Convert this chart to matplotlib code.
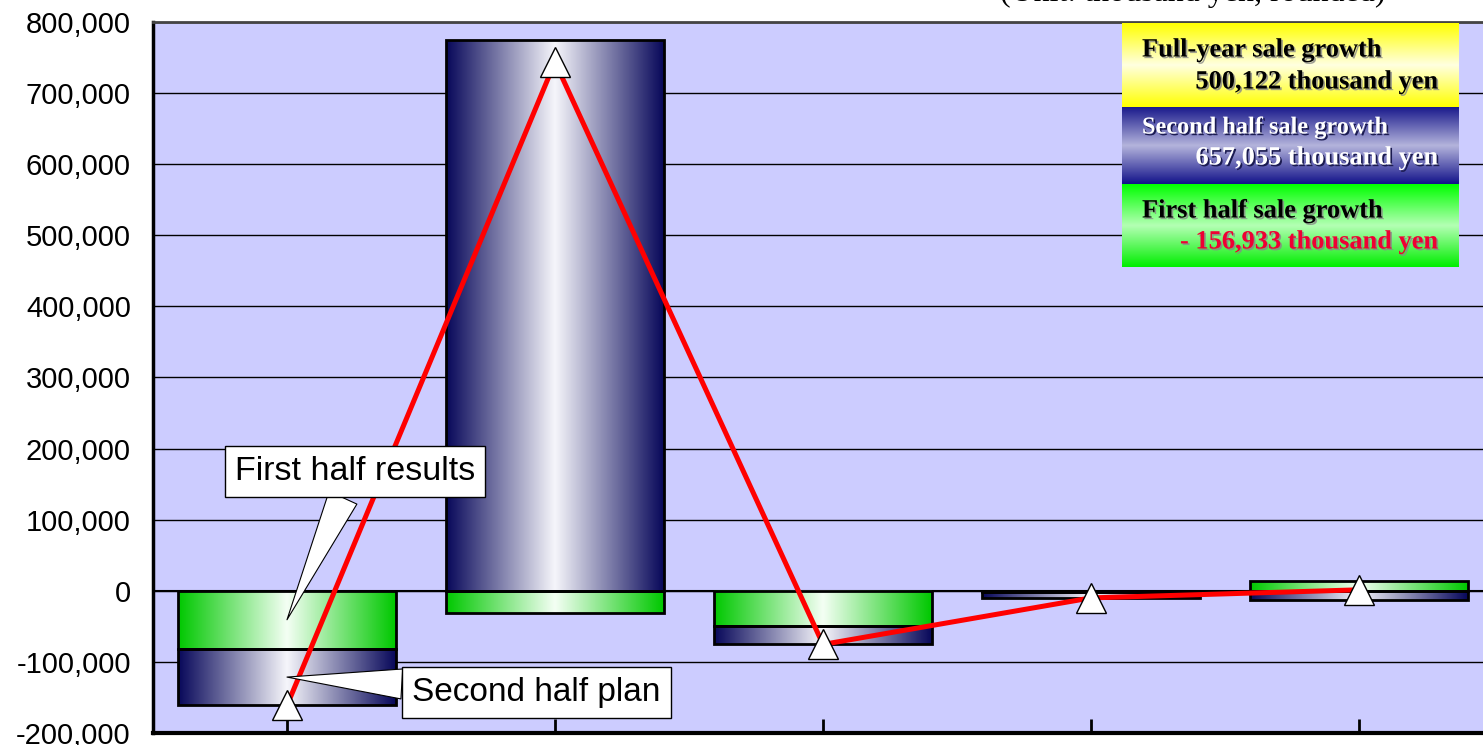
import numpy as np
import matplotlib.pyplot as plt
import matplotlib.patheffects as pe
from matplotlib.colors import LinearSegmentedColormap

plt.rcParams['font.family'] = ['Liberation Sans', 'DejaVu Sans']

# Figure size in pixels
W, H = 1483, 745
DPI = 100

# Sale growth by segment (thousand yen)
x_pos = np.arange(5)
first_half = np.array([-81400, -30700, -49600, -1000, 13800])
second_half = np.array([-79900, 774600, -25800, -9000, -12400])
y_ticks = np.arange(-200000, 800001, 100000)

# Summary figures for the side panel
full_year_growth = 500122
second_half_growth = 657055
first_half_growth = -156933

totals = first_half + second_half
# second half is stacked under/over the first half when both have the same sign
bottom2 = np.where(np.sign(first_half) == np.sign(second_half), first_half, 0)

fig = plt.figure(figsize=(W / DPI, H / DPI), dpi=DPI)
ax = fig.add_axes([153 / W, 12 / H, 1340 / W, 711 / H])
ax.set_facecolor('#ccccff')

green_cmap = LinearSegmentedColormap.from_list('green_bar', ['#00c800', '#f4fff4', '#00c800'])
navy_cmap = LinearSegmentedColormap.from_list('navy_bar', ['#08085a', '#f6f6fb', '#08085a'])
grad = np.linspace(0, 1, 256).reshape(1, -1)

bars1 = ax.bar(x_pos, first_half, width=0.81, color='none', edgecolor='black', lw=2, zorder=3)
bars2 = ax.bar(x_pos, second_half, width=0.81, bottom=bottom2, color='none',
               edgecolor='black', lw=2, zorder=3)

# horizontal gradient fill inside each bar
for bars, cmap in ((bars1, green_cmap), (bars2, navy_cmap)):
    for p in bars:
        x0, y0, w, h = p.get_x(), p.get_y(), p.get_width(), p.get_height()
        ax.imshow(grad, cmap=cmap, extent=(x0, x0 + w, y0, y0 + h), aspect='auto',
                  interpolation='bilinear', zorder=2)

# full-year line
ax.plot(x_pos, totals, color='red', lw=3.6, zorder=4)
ax.plot(x_pos, totals, ls='none', marker='^', ms=21, mfc='white', mec='black', mew=1, zorder=5)

ax.set_xlim(-0.5, 4.5)
ax.set_ylim(-200000, 800000)
ax.set_axisbelow(True)
ax.yaxis.grid(True, color='black', lw=1)
ax.axhline(0, color='black', lw=1.5, zorder=1)

ax.set_yticks(y_ticks)
ax.set_yticklabels([f'{v:,}' for v in y_ticks], fontsize=21)
ax.tick_params(axis='y', length=0, pad=16)
ax.set_xticks(x_pos)
ax.set_xticklabels([])
ax.tick_params(axis='x', direction='in', length=10, width=2)

ax.spines['left'].set_linewidth(2.5)
ax.spines['bottom'].set_linewidth(3)
ax.spines['top'].set_linewidth(2)
ax.spines['top'].set_color('#444444')

# callouts
callout_box = dict(boxstyle='square,pad=0.3', fc='white', ec='black', lw=1)
ax.annotate('First half results', xy=(x_pos[0], first_half[0] / 2), xycoords='data',
            xytext=(355, 273.5), textcoords='figure pixels', ha='center', va='center',
            fontsize=24.5, bbox=callout_box, zorder=6,
            arrowprops=dict(arrowstyle='wedge,tail_width=0.9', fc='white', ec='black',
                            lw=0.8, shrinkA=0, shrinkB=0))
ax.annotate('Second half plan', xy=(x_pos[0], bottom2[0] + second_half[0] / 2), xycoords='data',
            xytext=(536.5, 53), textcoords='figure pixels', ha='center', va='center',
            fontsize=24, bbox=callout_box, zorder=6,
            arrowprops=dict(arrowstyle='wedge,tail_width=0.9', fc='white', ec='black',
                            lw=0.8, shrinkA=0, shrinkB=0))

# summary panel
lax = fig.add_axes([1122 / W, 1 - 267 / H, 337 / W, 244 / H])
lax.set_xlim(0, 337)
lax.set_ylim(244, 0)
lax.axis('off')
vgrad = np.linspace(0, 1, 256).reshape(-1, 1)
bands = [(0, 84, ['#ffff00', '#ffffe0', '#ffff00']),
         (84, 161, ['#1a1a8c', '#b4b4dc', '#12128a']),
         (161, 244, ['#00ff00', '#b4ffb4', '#00ee00'])]
for top, bot, cols in bands:
    lax.imshow(vgrad, cmap=LinearSegmentedColormap.from_list('band', cols),
               extent=(0, 337, bot, top), aspect='auto', interpolation='bilinear')

dark_shadow = [pe.withSimplePatchShadow(offset=(1.2, -1.2), shadow_rgbFace='#888888', alpha=0.8)]
navy_shadow = [pe.withSimplePatchShadow(offset=(1.2, -1.2), shadow_rgbFace='#1a1a50', alpha=1.0)]
serif = dict(family='Liberation Serif', weight='bold', va='center')

lax.text(20, 27, 'Full-year sale growth', fontsize=19, color='black', ha='left',
         path_effects=dark_shadow, **serif)
lax.text(316, 59, f'{full_year_growth:,} thousand yen', fontsize=19, color='black', ha='right',
         path_effects=dark_shadow, **serif)
lax.text(20, 105, 'Second half sale growth', fontsize=17.5, color='white', ha='left',
         path_effects=navy_shadow, **serif)
lax.text(316, 135, f'{second_half_growth:,} thousand yen', fontsize=19, color='white', ha='right',
         path_effects=navy_shadow, **serif)
lax.text(20, 188, 'First half sale growth', fontsize=19, color='black', ha='left',
         path_effects=dark_shadow, **serif)
lax.text(316, 219, f'- {abs(first_half_growth):,} thousand yen', fontsize=19, color='#ee0033',
         ha='right', path_effects=dark_shadow, **serif)

# unit note above the plot
fig.text(1385 / W, 1 - 1 / H, '(Unit: thousand yen, rounded)', family='Liberation Serif',
         fontsize=23, ha='right', va='baseline')

fig.savefig('out.png', dpi=DPI)
